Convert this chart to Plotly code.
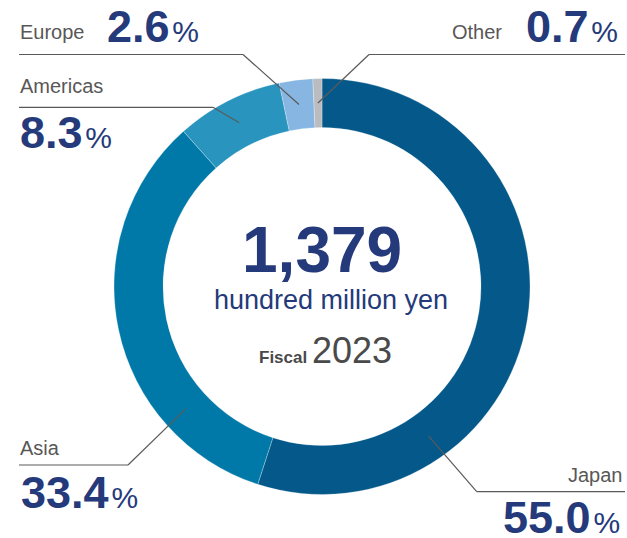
import math
import plotly.graph_objects as go

# ---------------- data ----------------
regions = ["Japan", "Asia", "Americas", "Europe", "Other"]
shares = [55.0, 33.4, 8.3, 2.6, 0.7]
share_labels = ["55.0", "33.4", "8.3", "2.6", "0.7"]
total_value = "1,379"
unit_label = "hundred million yen"
fiscal_prefix = "Fiscal"
fiscal_year = "2023"

# ---------------- styling ----------------
W, H = 627, 538
colors = ["#04598A", "#0079A8", "#2995BE", "#86B6E1", "#BABCBF"]
NAVY = "#243A7B"
GRAY = "#595757"
LINE = "#5a5a5a"
FONT = "Liberation Sans, Arial, sans-serif"

cx, cy, R_out, R_in = 322, 286.5, 208, 159
hole = R_in / R_out
anchor_frac = [0.73, 0.25, 0.5, 0.5, 0.5]   # where along each slice the leader dot sits
R_mid = (R_out + R_in) / 2

fig = go.Figure()

fig.add_trace(go.Pie(
    values=shares, labels=regions, sort=False, direction="clockwise", rotation=0,
    hole=hole, textinfo="none", showlegend=False,
    marker=dict(colors=colors, line=dict(color="rgba(255,255,255,0.45)", width=0.6)),
    domain=dict(x=[(cx - R_out) / W, (cx + R_out) / W],
                y=[1 - (cy + R_out) / H, 1 - (cy - R_out) / H]),
    hoverinfo="label+percent",
))

# leader dot positions derived from the slice angles
tot = sum(shares)
dots = []
cum = 0
for v, f in zip(shares, anchor_frac):
    ang = (cum + v * f) / tot * 2 * math.pi
    dots.append((cx + R_mid * math.sin(ang), cy - R_mid * math.cos(ang)))
    cum += v

fig.add_trace(go.Scatter(
    x=[d[0] for d in dots], y=[d[1] for d in dots], mode="markers",
    marker=dict(size=6, color=LINE), hoverinfo="skip", showlegend=False,
    xaxis="x", yaxis="y",
))

# leader line elbows: (horizontal start x, horizontal end x, y of horizontal, elbow x)
leaders = {
    "Japan": (476.7, 625, 491.7, 476.7),
    "Asia": (19, 128, 465, 128),
    "Americas": (19, 213, 107.3, 213),
    "Europe": (19, 243, 54.5, 243),
    "Other": (369, 625, 54.5, 369),
}
shapes = []
for i, name in enumerate(regions):
    x0, x1, yh, ex = leaders[name]
    dx, dy = dots[i]
    shapes.append(dict(type="line", xref="x", yref="y", x0=x0, x1=x1, y0=yh, y1=yh,
                       line=dict(color=LINE, width=1.2)))
    shapes.append(dict(type="line", xref="x", yref="y", x0=ex, x1=dx, y0=yh, y1=dy,
                       line=dict(color=LINE, width=1.2)))

def pct(s):
    return (f"<b>{s}</b><span style='font-size:10px'> </span>"
            f"<span style='font-size:30px'>%</span>")

anns = []
def add(text, x, y, xanchor, size, color, family=FONT):
    anns.append(dict(text=text, x=x, y=y, xref="x", yref="y", xanchor=xanchor,
                     yanchor="middle", showarrow=False,
                     font=dict(size=size, color=color, family=family)))

# region labels (name + share)
add(regions[3], 18, 32, "left", 20, GRAY)
add(pct(share_labels[3]), 105, 26.4, "left", 45, NAVY)
add(regions[4], 504, 32, "right", 20, GRAY)
add(pct(share_labels[4]), 620, 26.4, "right", 45, NAVY)
add(regions[2], 18, 86, "left", 20, GRAY)
add(pct(share_labels[2]), 18, 132.7, "left", 45, NAVY)
add(regions[1], 18, 448, "left", 20, GRAY)
add(pct(share_labels[1]), 19, 492.4, "left", 45, NAVY)
add(regions[0], 625, 474.8, "right", 20, GRAY)
add(pct(share_labels[0]), 622, 517.5, "right", 45, NAVY)

# centre text
add(f"<b>{total_value}</b>", 322, 249.5, "center", 64, NAVY)
add(unit_label, 331, 300, "center", 27, NAVY)
add(f"<b>{fiscal_prefix}</b> <span style='font-size:36px'>{fiscal_year}</span>",
    325, 350.2, "center", 17, "#4a4a4a")

fig.update_layout(
    width=W, height=H, margin=dict(l=0, r=0, t=0, b=0),
    paper_bgcolor="white", plot_bgcolor="rgba(0,0,0,0)",
    xaxis=dict(range=[0, W], visible=False, fixedrange=True, domain=[0, 1]),
    yaxis=dict(range=[H, 0], visible=False, fixedrange=True, domain=[0, 1]),
    shapes=shapes, annotations=anns,
)

fig.write_html("out.html", config={"displayModeBar": False},
               post_script="document.body.style.margin='0px';")
